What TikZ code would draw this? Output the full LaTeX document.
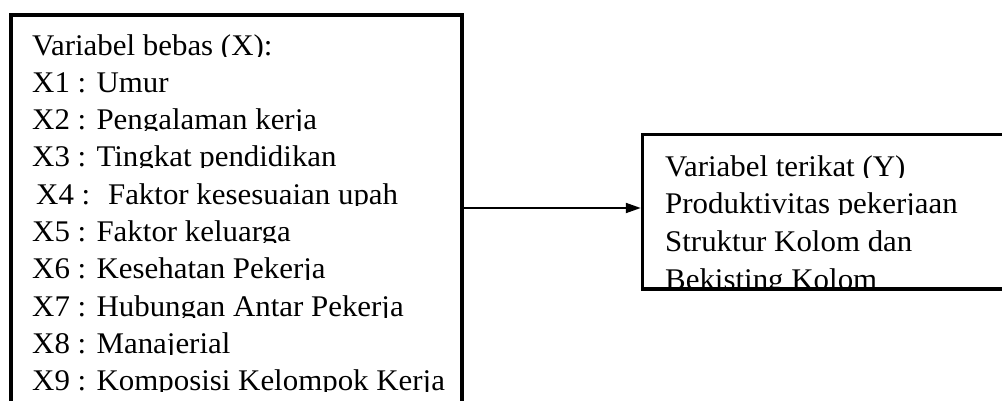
\documentclass[tikz,border=0pt]{standalone}
\usepackage{fontspec}
\setmainfont{Liberation Serif}[FakeStretch=1.03]
\usetikzlibrary{arrows.meta}
\newcommand\cliptext[4]{%
  \begin{scope}
    \clip (0,#3-40) rectangle (1002,#3+1);
    \node[txt] (#1) at (#2,#3) {#4};
  \end{scope}}
\begin{document}
\begin{tikzpicture}[x=1pt,y=-1pt,
  txt/.style={anchor=base west, inner sep=0pt, font=\fontsize{30}{36}\selectfont},
  varbox/.style={draw=black, inner sep=0pt, fill=none},
  link/.style={draw=black, line width=2pt, -{Triangle[length=15pt,width=10pt]}}]
\useasboundingbox (0,0) rectangle (1002,400);
\clip (0,0) rectangle (1002,400);
% left box text
\cliptext{x0}{32}{55}{Variabel bebas (X):}
\cliptext{x1}{32}{92.3}{X1 : Umur}
\cliptext{x2}{32}{129.6}{X2 : Pengalaman kerja}
\cliptext{x3}{32}{166.9}{X3 : Tingkat pendidikan}
\cliptext{x4}{36}{204.2}{X4 :\hspace{0.25em} Faktor kesesuaian upah}
\cliptext{x5}{32}{241.5}{X5 : Faktor keluarga}
\cliptext{x6}{32}{278.8}{X6 : Kesehatan Pekerja}
\cliptext{x7}{32}{316.1}{X7 : Hubungan Antar Pekerja}
\cliptext{x8}{32}{353.4}{X8 : Manajerial}
\cliptext{x9}{32}{390.7}{X9 : Komposisi Kelompok Kerja}
% right box text
\cliptext{y0}{665}{176}{Variabel terikat (Y)}
\cliptext{y1}{665}{213}{Produktivitas pekerjaan}
\cliptext{y2}{665}{251}{Struktur Kolom dan}
\cliptext{y3}{665}{289}{Bekisting Kolom}
% boxes
\node[varbox, line width=4pt, minimum width=451pt, minimum height=420pt] (L) at (236,225) {};
\node[varbox, line width=3.5pt, minimum width=400pt, minimum height=154.5pt] (R) at (842.5,211.75) {};
% connector
\coordinate (ay) at (0,208);
\draw[link] (L.east |- ay) -- (R.west |- ay);
\end{tikzpicture}
\end{document}
